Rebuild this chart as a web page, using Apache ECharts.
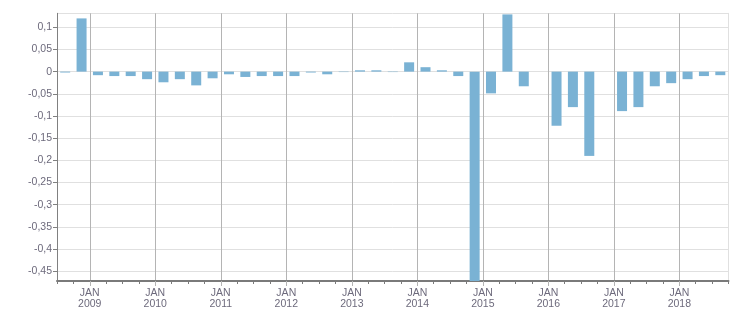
<!DOCTYPE html>
<html>
<head>
<meta charset="utf-8">
<script src="https://cdn.jsdelivr.net/npm/echarts@6/dist/echarts.min.js"></script>
<style>
html,body{margin:0;padding:0;background:#fff;}
#chart{width:751px;height:313px;}
</style>
</head>
<body>
<div id="chart"></div>
<script>
// Quarterly categories (Q3 2008 .. Q3 2018)
const quarters = [
  '2008 Q3','2008 Q4',
  '2009 Q1','2009 Q2','2009 Q3','2009 Q4',
  '2010 Q1','2010 Q2','2010 Q3','2010 Q4',
  '2011 Q1','2011 Q2','2011 Q3','2011 Q4',
  '2012 Q1','2012 Q2','2012 Q3','2012 Q4',
  '2013 Q1','2013 Q2','2013 Q3','2013 Q4',
  '2014 Q1','2014 Q2','2014 Q3','2014 Q4',
  '2015 Q1','2015 Q2','2015 Q3','2015 Q4',
  '2016 Q1','2016 Q2','2016 Q3','2016 Q4',
  '2017 Q1','2017 Q2','2017 Q3','2017 Q4',
  '2018 Q1','2018 Q2','2018 Q3'
];
const values = [
  -0.002, 0.120,
  -0.008, -0.010, -0.010, -0.017,
  -0.024, -0.017, -0.031, -0.015,
  -0.006, -0.012, -0.010, -0.010,
  -0.010, -0.002, -0.006, -0.001,
   0.003,  0.003, -0.001,  0.021,
   0.010,  0.003, -0.010, -0.472,
  -0.049,  0.129, -0.033,  0.000,
  -0.122, -0.080, -0.190,  0.000,
  -0.089, -0.080, -0.033, -0.026,
  -0.017, -0.010, -0.008
];
const yMin = -0.472;
const yMax = 0.1315;
const monthNames = ['JAN','APR','JUL','OCT'];

// quarter boundaries (start of each quarter + end of last)
const qStartMonth = {Q1:'01',Q2:'04',Q3:'07',Q4:'10'};
const boundaries = quarters.map(q => { const p = q.split(' '); return p[0] + '-' + qStartMonth[p[1]]; });
boundaries.push('2018-10');

const textColor = '#6d6a7c';
const font = 'Liberation Sans';
const isJan = (i) => boundaries[i] && boundaries[i].endsWith('-01');

const chart = echarts.init(document.getElementById('chart'), null, {renderer:'canvas'});
chart.setOption({
  animation: false,
  backgroundColor: '#fff',
  grid: {left: 57, right: 22.5, top: 13.3, bottom: 32, containLabel: false},
  xAxis: [
    {type:'category', data: quarters, boundaryGap: true, show: false, axisLine: {onZero: false}},
    {
      type:'category', data: boundaries, boundaryGap: false, position:'bottom',
      axisLine: {show: true, onZero: false, lineStyle: {color: '#7a7a7a', width: 2}},
      axisTick: {show: true, interval: 0, length: 3, lineStyle: {color: '#7a7a7a'}},
      axisLabel: {
        interval: (i) => isJan(i),
        formatter: (v) => { const p = v.split('-'); return monthNames[(parseInt(p[1],10)-1)/3] + '\n' + p[0]; },
        color: textColor, fontFamily: font, fontSize: 10.5, lineHeight: 11, margin: 7
      },
      splitLine: {show: true, interval: (i) => isJan(i), lineStyle: {color: '#b4b4b4', width: 1}}
    },
    {
      type:'category', data: boundaries, boundaryGap: false, position:'bottom',
      axisLine: {show: false, onZero: false},
      axisTick: {show: true, interval: (i) => isJan(i), length: 5, lineStyle: {color: '#b4b4b4'}},
      axisLabel: {show: false},
      splitLine: {show: false}
    }
  ],
  yAxis: [
    {
      type:'value', min: yMin, max: yMax, splitNumber: 12,
      minInterval: 0.05, maxInterval: 0.05,
      axisLine: {show: true, lineStyle: {color: '#808080', width: 1}},
      axisTick: {show: true, length: 4, lineStyle: {color: '#808080'}},
      axisLabel: {
        showMinLabel: false, showMaxLabel: false,
        formatter: (v) => String(+v.toFixed(2)).replace('.', ','),
        color: textColor, fontFamily: font, fontSize: 10.5, margin: 5
      },
      splitLine: {show: true, lineStyle: {color: '#e0e0e0', width: 1}}
    },
    {
      type:'value', min: yMin, max: yMax, position: 'right',
      axisLine: {show: true, lineStyle: {color: '#e0e0e0', width: 1}},
      axisTick: {show: false}, axisLabel: {show: false}, splitLine: {show: false}
    }
  ],
  series: [{
    type: 'bar', xAxisIndex: 0, yAxisIndex: 0,
    data: values, barWidth: 10,
    itemStyle: {color: '#7ab2d4'}
  }]
});
</script>
</body>
</html>
